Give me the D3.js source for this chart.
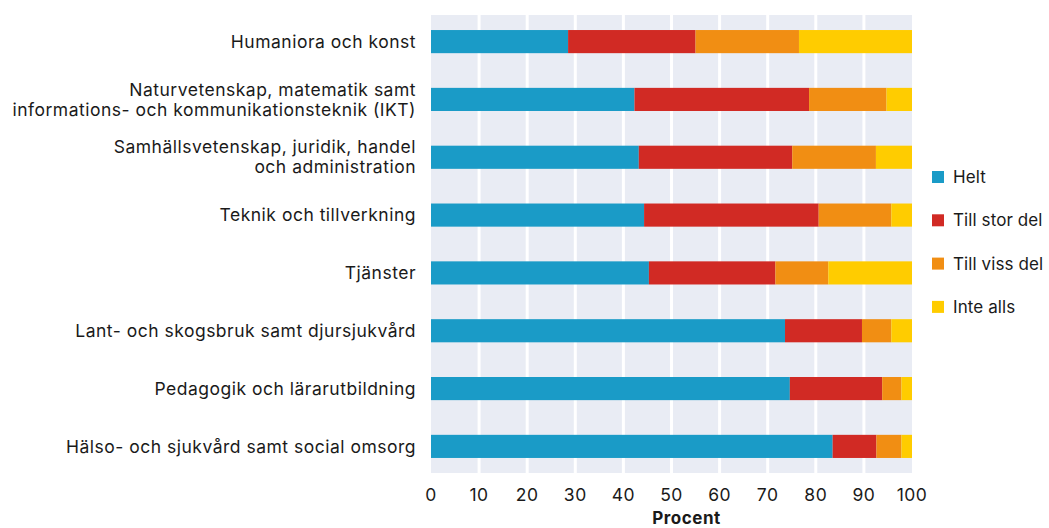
<!DOCTYPE html>
<html>
<head>
<meta charset="utf-8">
<script src="https://cdn.jsdelivr.net/npm/d3@7"></script>
<style>
  body { margin: 0; background: #fff; }
  svg text { font-family: Inter, "Noto Sans", sans-serif; fill: #1a1a1a; letter-spacing: 0.5px; }
  svg .legend text { letter-spacing: 0.1px; }
</style>
</head>
<body>
<svg id="chart" width="1049" height="528"></svg>
<script>
// categories (top to bottom), multi-line labels split by "|"
const categories = [
  "Humaniora och konst",
  "Naturvetenskap, matematik samt|informations- och kommunikationsteknik (IKT)",
  "Samhällsvetenskap, juridik, handel|och administration",
  "Teknik och tillverkning",
  "Tjänster",
  "Lant- och skogsbruk samt djursjukvård",
  "Pedagogik och lärarutbildning",
  "Hälso- och sjukvård samt social omsorg"
]

const seriesNames = ["Helt", "Till stor del", "Till viss del", "Inte alls"]

const helt = [28.5, 42.3, 43.2, 44.3, 45.3, 73.6, 74.6, 83.5]
const tillStorDel = [26.5, 36.3, 31.9, 36.3, 26.3, 16.0, 19.2, 9.1]
const tillVissDel = [21.5, 16.1, 17.4, 15.1, 11.0, 6.1, 4.0, 5.2]
const inteAlls = [23.5, 5.3, 7.5, 4.3, 17.4, 4.3, 2.2, 2.2]

const xTicks = [0, 10, 20, 30, 40, 50, 60, 70, 80, 90, 100]
const colors = ["#1a9bc7", "#d12a24", "#f18e13", "#ffcc00"]

const svg = d3.select("#chart")
const margin = {top: 15, left: 431, right: 137, bottom: 55}
const width = 1049 - margin.left - margin.right
const height = 528 - margin.top - margin.bottom

const g = svg.append("g").attr("transform", `translate(${margin.left},${margin.top})`)

const x = d3.scaleLinear().domain([0, 100]).range([0, width])
const y = d3.scaleBand().domain(categories).range([0, height])
  .paddingInner(0.6).paddingOuter(0.26)

// rows for stacking
const rows = categories.map((c, i) => ({
  cat: c,
  [seriesNames[0]]: helt[i],
  [seriesNames[1]]: tillStorDel[i],
  [seriesNames[2]]: tillVissDel[i],
  [seriesNames[3]]: inteAlls[i]
}))
const stacked = d3.stack().keys(seriesNames)(rows)

// panel background + grid
g.append("rect").attr("width", width).attr("height", height).attr("fill", "#e9ecf4")
g.selectAll(".grid").data(xTicks.slice(1, -1)).enter().append("line")
  .attr("x1", d => x(d)).attr("x2", d => x(d))
  .attr("y1", 0).attr("y2", height)
  .attr("stroke", "#fff").attr("stroke-width", 3)

// bars
g.selectAll(".layer").data(stacked).enter().append("g")
  .attr("fill", (d, i) => colors[i])
  .selectAll("rect").data(d => d).enter().append("rect")
  .attr("x", d => x(d[0]))
  .attr("width", d => x(d[1]) - x(d[0]))
  .attr("y", d => y(d.data.cat))
  .attr("height", y.bandwidth())

// category labels
const lineH = 20
g.selectAll(".cat").data(categories).enter().append("text")
  .attr("text-anchor", "end")
  .attr("font-size", 17.5)
  .each(function (d) {
    const lines = d.split("|")
    const cy = y(d) + y.bandwidth() / 2
    const t = d3.select(this)
    lines.forEach((l, i) => {
      t.append("tspan")
        .attr("x", -15)
        .attr("y", cy + (i - (lines.length - 1) / 2) * lineH)
        .attr("dy", "0.35em")
        .text(l)
    })
  })

// x tick labels
g.selectAll(".tick").data(xTicks).enter().append("text")
  .attr("x", d => x(d)).attr("y", height + 22)
  .attr("dy", "0.35em")
  .attr("text-anchor", "middle")
  .attr("font-size", 17.5)
  .text(d => d)

g.append("text")
  .attr("x", width / 2 + 15).attr("y", height + 45)
  .attr("dy", "0.35em")
  .attr("text-anchor", "middle")
  .attr("font-size", 17)
  .attr("font-weight", "bold")
  .text("Procent")

// legend
const legend = svg.append("g").attr("class", "legend").attr("transform", "translate(932,177)")
const item = legend.selectAll(".item").data(seriesNames).enter().append("g")
  .attr("transform", (d, i) => `translate(0,${i * 43.3})`)
item.append("rect").attr("x", 0).attr("y", -6).attr("width", 12).attr("height", 12)
  .attr("fill", (d, i) => colors[i])
item.append("text").attr("x", 21).attr("dy", "0.35em").attr("font-size", 17).text(d => d)
</script>
</body>
</html>
